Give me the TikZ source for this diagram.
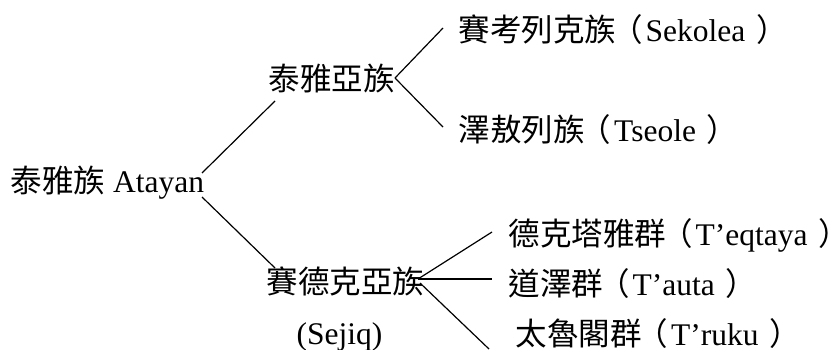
\documentclass[tikz,border=0pt]{standalone}
\usepackage{fontspec}
\setmainfont{Liberation Serif}
\newfontfamily\cjk{Noto Sans CJK TC}
\usepackage{tikz}

% romanised name in brackets after a group name
\newcommand{\romname}[1]{\hspace{-5pt}{\cjk （}\hspace{3pt}#1\hspace{11pt}{\cjk ）}}

\begin{document}
\begin{tikzpicture}[
  x=1pt, y=1pt,
  tribe/.style={inner sep=0pt, anchor=base west,
    font=\fontsize{31.5}{36}\selectfont},
  branch/.style={line width=1.2pt, black}
]
  \useasboundingbox (0,0) rectangle (834,349);

  % Root
  \node[tribe] (root) at (10.5,157) {{\cjk 泰雅族} Atayan};

  % Sub-tribes
  \node[tribe] (tya) at (268.5,259) {\cjk 泰雅亞族};
  \node[tribe] (sdk) at (266.5,56) {\cjk 賽德克亞族};
  \node[tribe] (sjq) at (296.5,5) {(Sejiq)};

  % Groups under the Atayal branch
  \node[tribe] (skl) at (458.5,308) {{\cjk 賽考列克族}\romname{Sekolea}};
  \node[tribe] (tso) at (458.5,208) {{\cjk 澤敖列族}\romname{Tseole}};

  % Groups under the Seediq branch
  \node[tribe] (tqt) at (508.5,104) {{\cjk 德克塔雅群}\romname{T’eqtaya}};
  \node[tribe] (tat) at (508.5,54)  {{\cjk 道澤群}\romname{T’auta}};
  \node[tribe] (trk) at (515.5,4)   {{\cjk 太魯閣群}\romname{T’ruku}};

  % Line ends and forks
  \coordinate (r1) at (202,176);
  \coordinate (t0) at (275,248);
  \coordinate (r2) at (202,152);
  \coordinate (s0) at (275,81);
  \coordinate (tf) at (395,271);
  \coordinate (t1) at (443,321);
  \coordinate (t2) at (443,222);
  \coordinate (sf) at (418,70);
  \coordinate (s1) at (492,117);
  \coordinate (s2) at (492,70);
  \coordinate (sg) at (420,66);
  \coordinate (s3) at (489,0);

  % Connections
  \foreach \a/\b in {r1/t0, r2/s0, tf/t1, tf/t2, sf/s1, sf/s2, sg/s3} {
    \draw[branch] (\a) -- (\b);
  }
\end{tikzpicture}
\end{document}
